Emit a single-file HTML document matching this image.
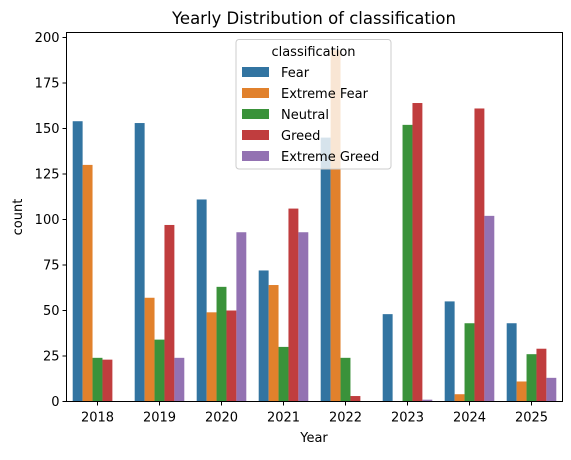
<!DOCTYPE html>
<html><head><meta charset="utf-8"><style>
body{margin:0;background:#fff}
svg text{font-family:"DejaVu Sans","Liberation Sans",sans-serif;fill:#000}
</style></head><body>
<svg id="chart" width="571" height="455" xmlns="http://www.w3.org/2000/svg">
<text x="314" y="24" font-size="16.5" text-anchor="middle">Yearly Distribution of classification</text>
<g id="bars"></g>
<g id="axes"></g>
</svg>
<script>
const years=["2018","2019","2020","2021","2022","2023","2024","2025"];
const seriesNames=["Fear","Extreme Fear","Neutral","Greed","Extreme Greed"];
const fear=[154,153,111,72,145,48,55,43];
const extremeFear=[130,57,49,64,193,0,4,11];
const neutral=[24,34,63,30,24,152,43,26];
const greed=[23,97,50,106,3,164,161,29];
const extremeGreed=[0,24,93,93,0,1,102,13];
const yTicks=[0,25,50,75,100,125,150,175,200];
const colors=["#3274a1","#e1812c","#3a923a","#c03d3e","#9372b2"];
const series=[fear,extremeFear,neutral,greed,extremeGreed];
const L=66.5,R=562.5,T=32.5,B=401.5;
const step=(R-L)/years.length;
const xC=i=>L+step*(i+0.5);
const y=v=>B-v*(B-37.5)/200;
const bw=step*0.8/5;
const NS="http://www.w3.org/2000/svg";
function mk(t,a,p){const e=document.createElementNS(NS,t);for(const k in a)e.setAttribute(k,a[k]);p.appendChild(e);return e;}
const bars=document.getElementById('bars'),axes=document.getElementById('axes');
series.forEach((s,si)=>s.forEach((v,i)=>{
 const r=mk('rect',{x:xC(i)-step*0.4+si*bw,y:y(v),width:bw,height:B-y(v),fill:colors[si]},bars);
 
 
}));
mk('rect',{x:L,y:T,width:R-L,height:B-T,fill:'none',stroke:'#000','stroke-width':1},axes);
yTicks.forEach(t=>{
 mk('line',{x1:L-4,x2:L,y1:y(t),y2:y(t),stroke:'#000'},axes);
 const tx=mk('text',{x:L-7,y:y(t)+4.5,'font-size':13,'text-anchor':'end'},axes);tx.textContent=t;
 
 
});
years.forEach((yr,i)=>{
 mk('line',{x1:xC(i),x2:xC(i),y1:B,y2:B+4,stroke:'#000'},axes);
 const tx=mk('text',{x:xC(i),y:B+20,'font-size':13,'text-anchor':'middle'},axes);tx.textContent=yr;
 
 
});
const xt=mk('text',{x:314,y:442,'font-size':13,'text-anchor':'middle'},axes);xt.textContent='Year';


const yt=mk('text',{x:22,y:217,'font-size':13,'text-anchor':'middle',transform:'rotate(-90 22 217)'},axes);yt.textContent='count';


const lg=mk('g',{},axes);


mk('rect',{x:236,y:39.5,width:155,height:129.5,rx:3,fill:'#fff','fill-opacity':0.8,stroke:'#ccc'},lg);
const lt=mk('text',{x:313.5,y:56,'font-size':13,'text-anchor':'middle'},lg);lt.textContent='classification';
seriesNames.forEach((n,si)=>{
 const yy=72+si*21;
 const p=mk('rect',{x:242,y:yy-5,width:27,height:10,fill:colors[si]},lg);
 
 
 const t=mk('text',{x:281,y:yy+5,'font-size':13},lg);t.textContent=n;
 
 
});
</script>
</body></html>
